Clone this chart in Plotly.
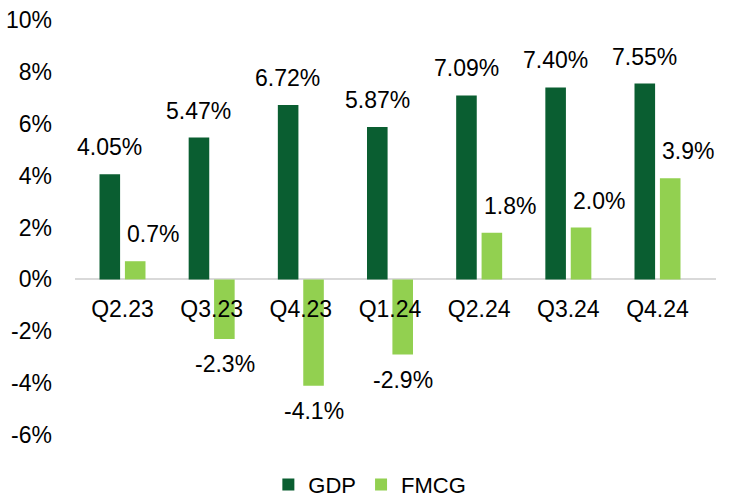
import plotly.graph_objects as go

categories = ["Q2.23", "Q3.23", "Q4.23", "Q1.24", "Q2.24", "Q3.24", "Q4.24"]
gdp = [4.05, 5.47, 6.72, 5.87, 7.09, 7.40, 7.55]
fmcg = [0.7, -2.3, -4.1, -2.9, 1.8, 2.0, 3.9]
y_ticks = [-6, -4, -2, 0, 2, 4, 6, 8, 10]
y_tick_labels = [f"{v}%" for v in y_ticks]

DARK = "#0A5E31"
LIGHT = "#92D050"
FONT = "Arial, Liberation Sans, sans-serif"
FS = 23

fig = go.Figure()
fig.add_trace(go.Bar(name="GDP", x=categories, y=gdp, marker_color=DARK,
                     marker_line_width=0))
fig.add_trace(go.Bar(name="FMCG", x=categories, y=fmcg, marker_color=LIGHT,
                     marker_line_width=0))

annotations = []
bar_off = 13  # px offset of bar centre from category centre
for c, v in zip(categories, gdp):
    annotations.append(dict(x=c, y=v, xref="x", yref="y", text=f"{v:.2f}%",
                            showarrow=False, xshift=-bar_off, yshift=27,
                            yanchor="middle", font=dict(size=FS, color="#000", family=FONT)))
for c, v in zip(categories, fmcg):
    if v >= 0:
        annotations.append(dict(x=c, y=v, xref="x", yref="y", text=f"{v:.1f}%",
                                showarrow=False, xshift=bar_off + 17.5, yshift=27,
                                yanchor="middle", font=dict(size=FS, color="#000", family=FONT)))
    else:
        annotations.append(dict(x=c, y=v, xref="x", yref="y", text=f"{v:.1f}%",
                                showarrow=False, xshift=bar_off, yshift=-25,
                                yanchor="middle", font=dict(size=FS, color="#000", family=FONT)))

fig.update_layout(
    width=729, height=499,
    margin=dict(l=75, r=13, t=20, b=64, autoexpand=False),
    paper_bgcolor="white", plot_bgcolor="white",
    barmode="group", bargap=0.43, bargroupgap=0.19,
    font=dict(family=FONT, size=FS, color="#000"),
    showlegend=True,
    legend=dict(orientation="h", x=0.46, xanchor="center", y=-0.12, yanchor="middle",
                font=dict(size=22, family=FONT), itemwidth=30, traceorder="normal"),
    annotations=annotations,
    xaxis=dict(anchor="free", position=0.375, showline=False, showgrid=False,
               automargin=False,
               ticks="", ticklabelstandoff=14, tickfont=dict(size=FS)),
    yaxis=dict(range=[-6, 10], tickvals=y_ticks, ticktext=y_tick_labels,
               showgrid=False, showline=False, zeroline=True, automargin=False,
               zerolinecolor="#D9D9D9", zerolinewidth=2,
               ticks="", ticklabelstandoff=22, tickfont=dict(size=FS)),
)

fig.write_html("out.html", config={"displayModeBar": False},
               post_script="document.body.style.margin='0';document.body.style.overflow='hidden';")
